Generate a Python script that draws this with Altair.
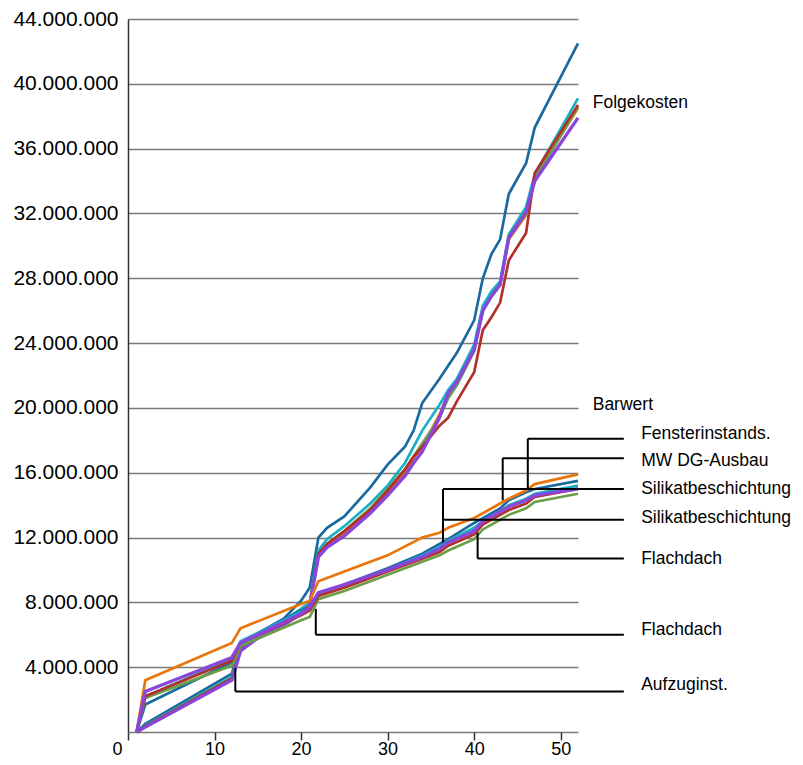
import altair as alt
import pandas as pd

# ---------------- data (values in millions) ----------------
fk_x = [1, 2, 12, 13, 15, 18, 20, 21, 22, 23, 25, 28, 30, 32, 33, 34, 36, 37, 38, 40, 41, 42, 43, 44, 46, 47, 52]
fk_blau = [0, 0.5, 3.6, 5.4, 6.1, 7.0, 8.1, 8.9, 12.0, 12.6, 13.3, 15.1, 16.5, 17.6, 18.6, 20.3, 21.8, 22.6, 23.4, 25.4, 28.0, 29.5, 30.4, 33.2, 35.1, 37.3, 42.5]
fk_orange = [0, 0.35, 3.3, 5.1, 5.8, 6.8, 7.6, 7.9, 10.9, 11.5, 12.3, 13.7, 14.8, 16.0, 16.9, 17.6, 19.6, 20.9, 21.7, 23.7, 26.1, 27.0, 27.6, 30.4, 31.9, 34.2, 38.5]
fk_tuerkis = [0, 0.4, 3.4, 5.2, 5.9, 6.9, 7.6, 8.0, 11.2, 11.9, 12.7, 14.1, 15.2, 16.6, 17.6, 18.6, 20.2, 21.1, 21.8, 23.9, 26.3, 27.2, 27.8, 30.7, 32.4, 34.4, 39.1]
fk_gruen = [0, 0.35, 3.3, 5.1, 5.8, 6.7, 7.4, 7.8, 11.0, 11.6, 12.4, 13.8, 15.0, 16.2, 17.0, 17.8, 19.4, 20.6, 21.4, 23.5, 26.0, 26.9, 27.6, 30.5, 32.0, 34.1, 38.6]
fk_rot = [0, 0.35, 3.3, 5.1, 5.8, 6.7, 7.4, 7.8, 11.0, 11.6, 12.4, 13.7, 14.9, 16.2, 17.0, 17.6, 18.9, 19.4, 20.4, 22.2, 24.8, 25.6, 26.5, 29.1, 30.8, 34.5, 38.7]
fk_lila = [0, 0.3, 3.2, 5.0, 5.8, 6.6, 7.3, 7.8, 10.8, 11.4, 12.1, 13.5, 14.6, 15.8, 16.6, 17.3, 19.4, 20.9, 21.6, 23.6, 26.0, 26.9, 27.6, 30.5, 32.1, 34.0, 37.9]

bw_x = [1, 2, 12, 13, 20, 21, 22, 25, 30, 34, 36, 37, 40, 41, 43, 44, 46, 47, 52]
bw_blau = [0, 1.7, 4.3, 5.5, 7.5, 7.7, 8.5, 9.1, 10.1, 11.0, 11.6, 11.9, 12.9, 13.2, 13.8, 14.3, 14.8, 15.0, 15.5]
bw_orange = [0, 3.2, 5.5, 6.4, 7.9, 8.1, 9.3, 9.9, 10.9, 12.0, 12.3, 12.6, 13.2, 13.5, 14.1, 14.4, 14.9, 15.3, 15.9]
bw_tuerkis = [0, 2.2, 4.5, 5.6, 7.4, 7.6, 8.5, 9.0, 10.0, 10.9, 11.4, 11.8, 12.6, 13.0, 13.6, 14.0, 14.4, 14.7, 15.2]
bw_gruen = [0, 2.1, 4.1, 5.3, 6.9, 7.1, 8.2, 8.7, 9.7, 10.5, 10.9, 11.2, 11.9, 12.5, 13.1, 13.4, 13.8, 14.2, 14.7]
bw_rot = [0, 2.2, 4.4, 5.5, 7.2, 7.5, 8.4, 8.9, 9.9, 10.7, 11.1, 11.5, 12.2, 12.8, 13.4, 13.7, 14.1, 14.5, 15.0]
bw_lila = [0, 2.5, 4.6, 5.5, 7.3, 7.7, 8.6, 9.1, 10.0, 10.8, 11.3, 11.7, 12.4, 13.0, 13.6, 13.9, 14.3, 14.6, 15.0]

farben = ["blau", "orange", "tuerkis", "gruen", "rot", "lila"]
farb_werte = ["#1a6aa0", "#e8760a", "#18b0c2", "#6c9e48", "#b3302a", "#8a46dc"]

# callouts
cal_text = ["Fensterinstands.", "MW DG-Ausbau", "Silikatbeschichtung", "Silikatbeschichtung",
            "Flachdach", "Flachdach", "Aufzuginst."]
cal_x = [46.2, 43.3, 36.4, 36.4, 40.4, 21.7, 12.4]
cal_curve_y = [15.0, 14.3, 11.7, 13.1, 12.3, 7.6, 3.95]
cal_line_y = [18.1, 16.9, 15.0, 13.1, 10.7, 6.0, 2.5]
cal_text_y = [18.4, 16.7, 15.0, 13.2, 10.7, 6.3, 2.9]
cal_end_x = 57.3
cal_label_x = 59.3

grp_text = ["Folgekosten", "Barwert"]
grp_x = [53.7, 53.7]
grp_y = [38.8, 20.2]

# ---------------- build tables ----------------
rows = []
fk = dict(zip(farben, [fk_blau, fk_orange, fk_tuerkis, fk_gruen, fk_rot, fk_lila]))
bw = dict(zip(farben, [bw_blau, bw_orange, bw_tuerkis, bw_gruen, bw_rot, bw_lila]))
for grp, xs_, ser in [("Folgekosten", fk_x, fk), ("Barwert", bw_x, bw)]:
    for name, vals in ser.items():
        for x, v in zip(xs_, vals):
            rows.append({"x": x, "y": v * 1e6, "linie": grp + " " + name, "farbe": name})
df = pd.DataFrame(rows)

cal = pd.DataFrame({
    "text": cal_text,
    "x": cal_x,
    "xe": [cal_end_x] * len(cal_x),
    "xt": [cal_label_x] * len(cal_x),
    "yc": [v * 1e6 for v in cal_curve_y],
    "yl": [v * 1e6 for v in cal_line_y],
    "yt": [v * 1e6 for v in cal_text_y],
})
grp_df = pd.DataFrame({"text": grp_text, "x": grp_x, "y": [v * 1e6 for v in grp_y]})

FONT = "Liberation Sans"
xs = alt.Scale(domain=[0, 52], nice=False)
ys = alt.Scale(domain=[0, 44_000_000], nice=False)

x_axis = alt.Axis(
    values=[0, 10, 20, 30, 40, 50], grid=False, domain=False, ticks=True, tickSize=8,
    tickColor="#333333", tickWidth=1.5, labelFont=FONT, labelFontSize=18, labelColor="black",
    labelPadding=0, labelFlush=False, title=None,
    labelOffset={"condition": {"test": "datum.value == 0", "value": -11}, "value": 0},
)
y_axis = alt.Axis(
    values=[i * 4_000_000 for i in range(12)], grid=True, gridColor="#7a7a7a", gridWidth=1.5,
    domain=True, domainColor="#333333", domainWidth=1.5, ticks=False, tickSize=0,
    labelPadding=10, labelFont=FONT, labelFontSize=21, labelColor="black", title=None,
    labelExpr="datum.value == 0 ? '' : replace(format(datum.value, ','), regexp(',', 'g'), '.')",
)

lines = alt.Chart(df).mark_line().encode(
    x=alt.X("x:Q", scale=xs, axis=x_axis),
    y=alt.Y("y:Q", scale=ys, axis=y_axis),
    color=alt.Color("farbe:N", scale=alt.Scale(domain=farben, range=farb_werte), legend=None),
    detail="linie:N",
    order="x:Q",
    strokeWidth=alt.condition(alt.datum.farbe == "lila", alt.value(3.4), alt.value(2.7)),
)

vrules = alt.Chart(cal).mark_rule(color="black", strokeWidth=2).encode(
    x=alt.X("x:Q", scale=xs), y=alt.Y("yc:Q", scale=ys), y2="yl:Q"
)
hrules = alt.Chart(cal).mark_rule(color="black", strokeWidth=2).encode(
    x=alt.X("x:Q", scale=xs), x2="xe:Q", y=alt.Y("yl:Q", scale=ys)
)
cal_labels = alt.Chart(cal).mark_text(
    align="left", baseline="middle", font=FONT, fontSize=17.5, color="black"
).encode(x=alt.X("xt:Q", scale=xs), y=alt.Y("yt:Q", scale=ys), text="text:N")
grp_labels = alt.Chart(grp_df).mark_text(
    align="left", baseline="middle", font=FONT, fontSize=17.5, color="black"
).encode(x=alt.X("x:Q", scale=xs), y=alt.Y("y:Q", scale=ys), text="text:N")

chart = alt.layer(lines, vrules, hrules, cal_labels, grp_labels).properties(
    width=450, height=713,
    background="white",
    autosize=alt.AutoSizeParams(type="none"),
    padding={"left": 120, "top": 11, "right": 217, "bottom": 25},
).configure_view(stroke=None)

chart.save("out.html", embed_options={"renderer": "svg", "actions": False})
